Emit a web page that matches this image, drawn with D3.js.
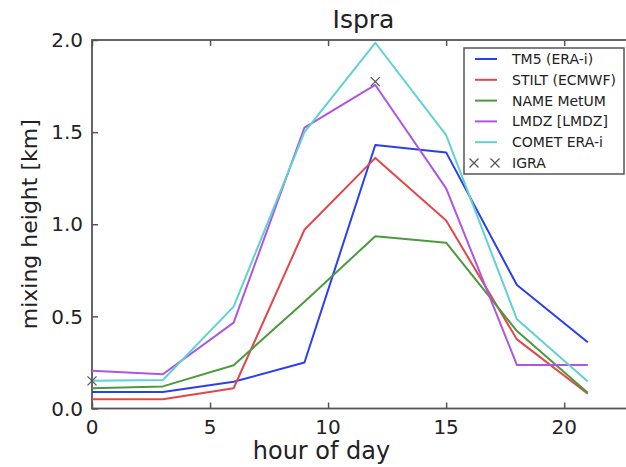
<!DOCTYPE html>
<html>
<head>
<meta charset="utf-8">
<script src="https://cdn.jsdelivr.net/npm/d3@7"></script>
<style>
  body { margin: 0; background: #fff; }
  text { font-family: "DejaVu Sans", sans-serif; fill: #222; }
</style>
</head>
<body>
<svg id="chart" width="626" height="467"></svg>
<script>
// hours of the model output
let hours = [0, 3, 6, 9, 12, 15, 18, 21]

// mixing height [km] per model
let tm5 = [0.09, 0.09, 0.145, 0.25, 1.43, 1.39, 0.67, 0.36]
let stilt = [0.05, 0.05, 0.11, 0.97, 1.36, 1.02, 0.375, 0.08]
let nameMetUM = [0.11, 0.12, 0.235, 0.58, 0.935, 0.90, 0.42, 0.085]
let lmdz = [0.205, 0.186, 0.466, 1.525, 1.756, 1.195, 0.236, 0.236]
let comet = [0.15, 0.155, 0.553, 1.50, 1.985, 1.484, 0.484, 0.146]

// radiosonde observations
let igraHours = [0, 12]
let igra = [0.15, 1.774]

let seriesNames = ["TM5 (ERA-i)", "STILT (ECMWF)", "NAME MetUM", "LMDZ [LMDZ]", "COMET ERA-i"]
let seriesValues = [tm5, stilt, nameMetUM, lmdz, comet]
let seriesColors = ["#2a3ff0", "#e2474a", "#4b9a3e", "#b055e2", "#5fd2d2"]

let xTicks = [0, 5, 10, 15, 20]
let yTicks = [0, 0.5, 1.0, 1.5, 2.0]

let svg = d3.select("#chart")
let margin = { top: 40, right: -9, bottom: 58.5, left: 92 }
let width = 626, height = 467

let x = d3.scaleLinear()
    .domain([0, 23])
    .range([margin.left, width - margin.right])

let y = d3.scaleLinear()
    .domain([0, 2])
    .range([height - margin.bottom, margin.top])

let spine = "#555"

// inward ticks on all four sides, like the old matplotlib style
svg.append("g")
    .attr("transform", `translate(0,${y(0)})`)
    .call(d3.axisTop(x).tickValues(xTicks).tickSize(6).tickFormat(""))
svg.append("g")
    .attr("transform", `translate(0,${y(2)})`)
    .call(d3.axisBottom(x).tickValues(xTicks).tickSize(6).tickFormat(""))
svg.append("g")
    .attr("transform", `translate(${x(0)},0)`)
    .call(d3.axisRight(y).tickValues(yTicks).tickSize(6).tickFormat(""))
svg.selectAll(".domain").remove()
svg.selectAll(".tick line").style("stroke", spine).style("stroke-width", 1.5)

// frame
svg.append("rect")
    .attr("x", x(0))
    .attr("y", y(2))
    .attr("width", x(23) - x(0))
    .attr("height", y(0) - y(2))
    .style("fill", "none")
    .style("stroke", spine)
    .style("stroke-width", 1.8)

// tick labels
svg.append("g").selectAll("text")
    .data(xTicks)
    .enter()
    .append("text")
      .attr("x", d => x(d))
      .attr("y", y(0) + 25)
      .attr("text-anchor", "middle")
      .style("font-size", "20px")
      .text(d => d)

svg.append("g").selectAll("text")
    .data(yTicks)
    .enter()
    .append("text")
      .attr("x", x(0) - 9)
      .attr("y", d => y(d))
      .attr("dy", "0.36em")
      .attr("text-anchor", "end")
      .style("font-size", "20px")
      .text(d => d3.format(".1f")(d))

let line = d3.line()
    .x((d, i) => x(hours[i]))
    .y(d => y(d))

svg.append("g").selectAll("path")
    .data(seriesValues)
    .enter()
    .append("path")
      .attr("d", d => line(d))
      .style("fill", "none")
      .style("stroke", (d, i) => seriesColors[i])
      .style("stroke-width", 2)
      .style("stroke-linejoin", "round")

// x markers for IGRA
function cross(g, cx, cy, r) {
  g.append("path")
      .attr("d", `M${cx - r},${cy - r}L${cx + r},${cy + r}M${cx - r},${cy + r}L${cx + r},${cy - r}`)
      .style("stroke", "#555")
      .style("stroke-width", 1.3)
      .style("fill", "none")
}
let marks = svg.append("g")
igra.forEach((v, i) => cross(marks, x(igraHours[i]), y(v), 4.5))

// title and axis labels
svg.append("text")
    .attr("x", (x(0) + x(23)) / 2)
    .attr("y", 28)
    .attr("text-anchor", "middle")
    .style("font-size", "25px")
    .text("Ispra")

svg.append("text")
    .attr("x", (x(0) + x(23)) / 2 - 42)
    .attr("y", 459)
    .attr("text-anchor", "middle")
    .style("font-size", "24px")
    .text("hour of day")

svg.append("text")
    .attr("transform", `translate(37,${(y(0) + y(2)) / 2}) rotate(-90)`)
    .attr("text-anchor", "middle")
    .style("font-size", "22px")
    .text("mixing height [km]")

// legend
let lgX = x(23) - 171, lgY = y(2) + 8
let legend = svg.append("g")
legend.append("rect")
    .attr("x", lgX)
    .attr("y", lgY)
    .attr("width", 160)
    .attr("height", 126)
    .style("fill", "#fff")
    .style("stroke", spine)
    .style("stroke-width", 1.5)

seriesNames.forEach((name, i) => {
  let ry = lgY + 11 + i * 20.8
  legend.append("line")
      .attr("x1", lgX + 11).attr("x2", lgX + 33)
      .attr("y1", ry).attr("y2", ry)
      .style("stroke", seriesColors[i])
      .style("stroke-width", 2)
  legend.append("text")
      .attr("x", lgX + 48)
      .attr("y", ry)
      .attr("dy", "0.36em")
      .style("font-size", "14px")
      .text(name)
})
let igraRow = lgY + 11 + 5 * 20.8
cross(legend, lgX + 10, igraRow, 4.5)
cross(legend, lgX + 31, igraRow, 4.5)
legend.append("text")
    .attr("x", lgX + 48)
    .attr("y", igraRow)
    .attr("dy", "0.36em")
    .style("font-size", "14px")
    .text("IGRA")
</script>
</body>
</html>
